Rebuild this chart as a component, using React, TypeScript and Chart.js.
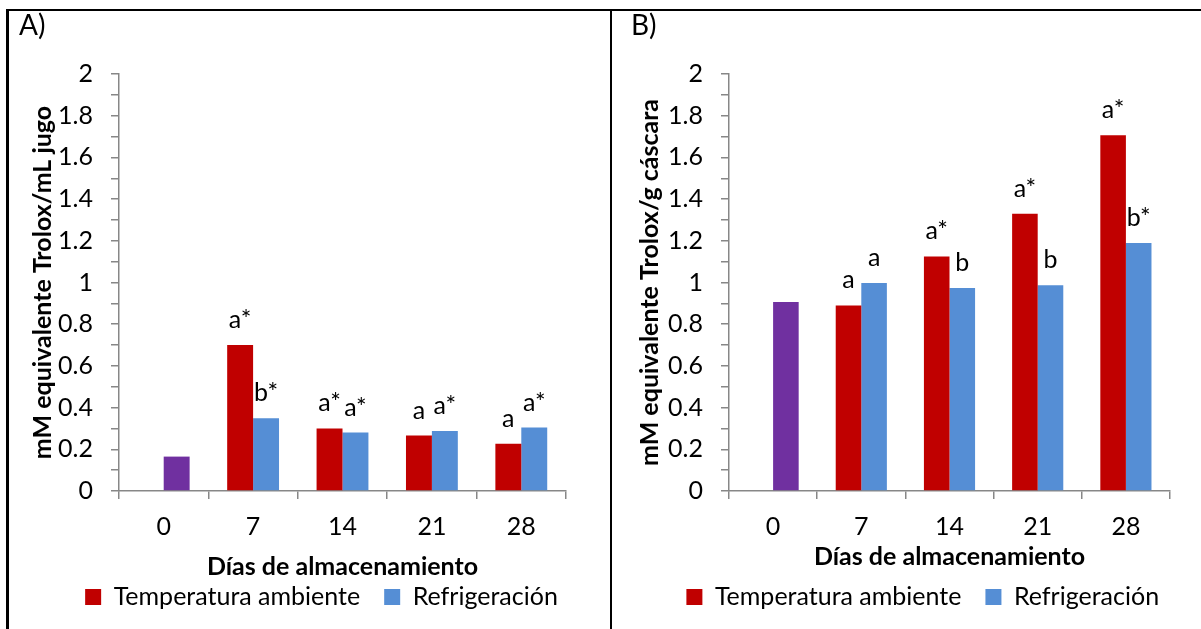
import React, { useEffect, useRef } from 'react';
import { Chart, registerables } from 'chart.js';

Chart.register(...registerables);

// ---------- data ----------
const categories = ['0', '7', '14', '21', '28'];
const seriesNames = ['Temperatura ambiente', 'Refrigeración'];
const xTitle = 'Días de almacenamiento';

const juiceTitle = 'mM equivalente Trolox/mL jugo';
const juiceTemp = [null, 0.7, 0.3, 0.266, 0.227];
const juiceRefr = [0.165, 0.349, 0.28, 0.288, 0.304];
const juiceTempLabels = ['', 'a*', 'a*', 'a', 'a'];
const juiceRefrLabels = ['', 'b*', 'a*', 'a*', 'a*'];

const peelTitle = 'mM equivalente Trolox/g cáscara';
const peelTemp = [null, 0.89, 1.125, 1.33, 1.706];
const peelRefr = [0.907, 0.998, 0.974, 0.987, 1.19];
const peelTempLabels = ['', 'a', 'a*', 'a*', 'a*'];
const peelRefrLabels = ['', 'a', 'b', 'b', 'b*'];

const yMin = 0;
const yMax = 2;
const yStep = 0.1;

// ---------- styles / layout ----------
const FONT = 'Lato, "Open Sans", sans-serif';
const FS = 25;
const LH = 1.2;
const RED = '#C00000';
const BLUE = '#558ED5';
const PURPLE = '#7030A0';
const AXIS = '#878787';

const CANVAS_H = 629;
const PLOT_TOP = 74;
const PLOT_BOTTOM = 491;
const LEG_PAD = 24;
const LEG_LAYOUT_H = FS + LEG_PAD + 10; // Chart.js legend height for one row
const X_SCALE_H = CANVAS_H - PLOT_BOTTOM - LEG_LAYOUT_H;
const X_SCALE_BOTTOM = PLOT_BOTTOM + X_SCALE_H;

type Panel = {
  tag: string;
  left: number;
  width: number;
  yTitle: string;
  temp: (number | null)[];
  refr: (number | null)[];
  tempLabels: string[];
  refrLabels: string[];
  padRight: number;
  yWidth: number;
  yTitleCenter: number;
  xTitleCenter: number;
  legendCx: number;
  legendCy: number;
};

const barLabelsPlugin = (labels: string[][]) => ({
  id: 'barLabels',
  afterDatasetsDraw(chart: any) {
    const { ctx } = chart;
    ctx.save();
    ctx.font = `${FS}px ${FONT}`;
    ctx.fillStyle = '#000';
    ctx.textAlign = 'center';
    ctx.textBaseline = 'alphabetic';
    chart.data.datasets.forEach((ds: any, di: number) => {
      const meta = chart.getDatasetMeta(di);
      meta.data.forEach((el: any, i: number) => {
        const t = labels[di][i];
        if (!t || ds.data[i] == null) return;
        ctx.fillText(t, el.x, el.y - 17);
      });
    });
    ctx.restore();
  },
});

const legendPlacePlugin = (cx: number, cy: number) => ({
  id: 'legendPlace',
  afterLayout(chart: any) {
    const lg = chart.legend;
    if (!lg) return;
    const dx = cx - (lg.left + lg.right) / 2;
    lg.left += dx;
    lg.right += dx;
    const pad = lg.options.labels.padding;
    const newTop = cy - pad - FS / 2;
    const dy = newTop - lg.top;
    lg.top += dy;
    lg.bottom += dy;
  },
});

const legendColors = [RED, BLUE];

function ChartPanel({ p }: { p: Panel }) {
  const ref = useRef<HTMLCanvasElement | null>(null);
  useEffect(() => {
    if (!ref.current) return;
    const half = (FS * LH) / 2;
    const chart = new Chart(ref.current, {
      type: 'bar',
      data: {
        labels: categories,
        datasets: [
          {
            label: seriesNames[0],
            data: p.temp as any,
            backgroundColor: RED,
            borderWidth: 0,
            categoryPercentage: 0.58,
            barPercentage: 1,
          },
          {
            label: seriesNames[1],
            data: p.refr as any,
            backgroundColor: (c: any) => (c.dataIndex === 0 ? PURPLE : BLUE),
            borderWidth: 0,
            categoryPercentage: 0.58,
            barPercentage: 1,
          },
        ],
      },
      options: {
        responsive: false,
        animation: false,
        layout: { padding: { left: 0, right: p.padRight, top: PLOT_TOP, bottom: 0 } },
        plugins: {
          legend: {
            display: true,
            position: 'bottom',
            labels: {
              boxWidth: 16,
              boxHeight: 16,
              padding: LEG_PAD,
              color: '#000',
              font: { family: FONT, size: FS },
              generateLabels: (ch: any) =>
                Chart.defaults.plugins.legend.labels
                  .generateLabels(ch)
                  .map((it: any, i: number) => ({
                    ...it,
                    fillStyle: legendColors[i],
                    strokeStyle: legendColors[i],
                    lineWidth: 0,
                  })),
            },
          },
          tooltip: { enabled: false },
        },
        scales: {
          x: {
            offset: true,
            grid: {
              offset: true,
              drawOnChartArea: false,
              color: AXIS,
              lineWidth: 1.5,
              tickLength: 8,
            },
            border: { color: AXIS, width: 1.5 },
            ticks: { color: '#000', padding: 13, font: { family: FONT, size: FS } },
            title: {
              display: true,
              text: xTitle,
              color: '#000',
              font: { family: FONT, size: FS, weight: 'bold', lineHeight: LH },
              padding: { top: 0, bottom: X_SCALE_BOTTOM - half - p.xTitleCenter },
            },
            afterFit: (s: any) => {
              s.height = X_SCALE_H;
            },
          },
          y: {
            min: yMin,
            max: yMax,
            grid: {
              drawOnChartArea: false,
              color: AXIS,
              lineWidth: 1.5,
              tickLength: 8,
            },
            border: { color: AXIS, width: 1.5 },
            ticks: {
              stepSize: yStep,
              autoSkip: false,
              color: '#000',
              padding: 18,
              font: { family: FONT, size: FS },
              callback: (v: any, i: number) =>
                i % 2 === 0 ? String(Math.round(Number(v) * 10) / 10) : '',
            },
            title: {
              display: true,
              text: p.yTitle,
              color: '#000',
              font: { family: FONT, size: FS, weight: 'bold', lineHeight: LH },
              padding: { top: p.yTitleCenter - half, bottom: 0 },
            },
            afterFit: (s: any) => {
              s.width = p.yWidth;
            },
          },
        },
      } as any,
      plugins: [
        barLabelsPlugin([p.tempLabels, p.refrLabels]),
        legendPlacePlugin(p.legendCx, p.legendCy),
      ],
    });
    return () => chart.destroy();
  }, [p]);
  return (
    <>
      <canvas
        ref={ref}
        width={p.width}
        height={CANVAS_H}
        style={{ position: 'absolute', left: p.left, top: 0, width: p.width, height: CANVAS_H }}
      />
      <div
        style={{
          position: 'absolute',
          left: p.left + 19,
          top: 10,
          font: `28px ${FONT}`,
          color: '#000',
          lineHeight: '28px',
        }}
      >
        {p.tag}
      </div>
    </>
  );
}

const panelA: Panel = {
  tag: 'A)',
  left: 0,
  width: 610,
  yTitle: juiceTitle,
  temp: juiceTemp,
  refr: juiceRefr,
  tempLabels: juiceTempLabels,
  refrLabels: juiceRefrLabels,
  padRight: 44,
  yWidth: 119,
  yTitleCenter: 43,
  xTitleCenter: 567,
  legendCx: 321.5,
  legendCy: 597,
};

const panelB: Panel = {
  tag: 'B)',
  left: 612,
  width: 589,
  yTitle: peelTitle,
  temp: peelTemp,
  refr: peelRefr,
  tempLabels: peelTempLabels,
  refrLabels: peelRefrLabels,
  padRight: 31,
  yWidth: 117,
  yTitleCenter: 38,
  xTitleCenter: 557,
  legendCx: 310.75,
  legendCy: 597,
};

export default function App() {
  return (
    <div
      style={{
        position: 'fixed',
        left: 0,
        top: 0,
        width: 1201,
        height: 629,
        overflow: 'hidden',
        background: '#fff',
      }}
    >
      <ChartPanel p={panelA} />
      <ChartPanel p={panelB} />
      <div style={{ position: 'absolute', left: 6, top: 9, width: 1195, height: 2, background: '#000' }} />
      <div style={{ position: 'absolute', left: 6, top: 9, width: 3, height: 620, background: '#000' }} />
      <div style={{ position: 'absolute', left: 610, top: 9, width: 2, height: 620, background: '#000' }} />
    </div>
  );
}
